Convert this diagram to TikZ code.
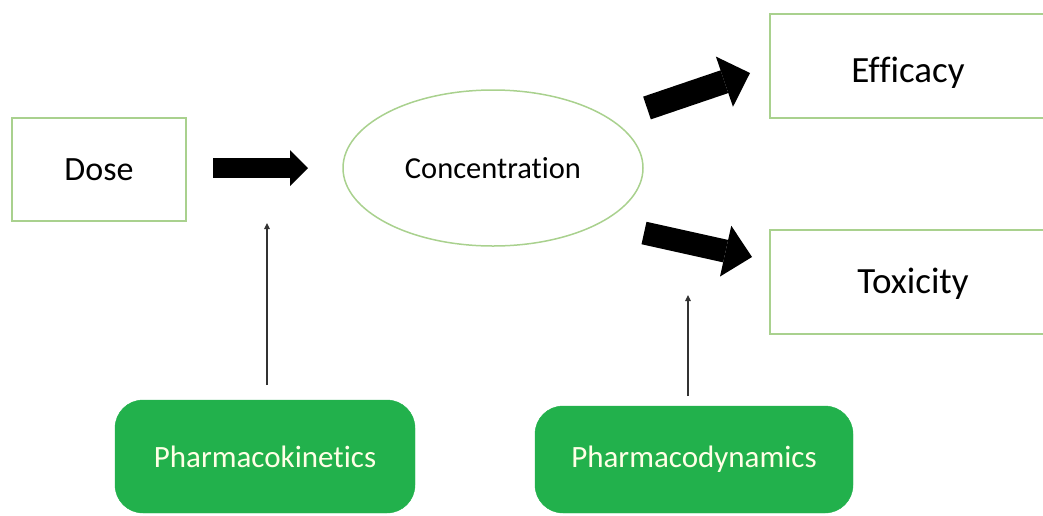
\documentclass[tikz,border=0pt]{standalone}
\usepackage{fontspec}
\setmainfont{Carlito}[Ligatures=NoCommon]
\usetikzlibrary{arrows.meta,shapes.geometric}
\definecolor{boxgreen}{HTML}{A9D18E}
\definecolor{fillgreen}{HTML}{22B14C}
\definecolor{paletext}{HTML}{FFFFE6}
\tikzset{
  plainbox/.style={draw=boxgreen, line width=1.5pt, rectangle, inner sep=0pt},
  greenbox/.style={fill=fillgreen, draw=fillgreen, rounded corners=28pt, inner sep=0pt, text=paletext, font=\fontsize{31}{36}\selectfont},
  blockarrow/.style={line width=#1, draw=black, line cap=butt},
  thinarrow/.style={draw=black!80, line width=1.2pt, -{Triangle[length=6pt,width=5.5pt]}}
}
\begin{document}
\begin{tikzpicture}[x=1pt,y=-1pt]
\useasboundingbox (0,0) rectangle (1043,515);
\clip (0,0) rectangle (1043,515);
\node[plainbox, minimum width=174pt, minimum height=103pt, font=\fontsize{34}{40}\selectfont] (dose) at (99,169.5) {Dose};
\node[ellipse, draw=boxgreen, line width=1.5pt, minimum width=300pt, minimum height=156pt, inner sep=0pt, font=\fontsize{30.5}{36}\selectfont] (conc) at (493,168) {Concentration};
\node[plainbox, minimum width=276pt, minimum height=104pt, text height=37pt, text depth=5pt, font=\fontsize{37}{44}\selectfont] (eff) at (908,66) {Efficacy};
\node[plainbox, minimum width=286pt, minimum height=104pt, text height=29pt, text depth=7pt, font=\fontsize{37}{44}\selectfont] (tox) at (913,282) {Toxicity};
\node[greenbox, minimum width=300pt, minimum height=113pt] (pk) at (265,456.5) {Pharmacokinetics};
\node[greenbox, minimum width=318pt, minimum height=107pt] (pd) at (694,459.5) {Pharmacodynamics};
% block arrows
\coordinate (a1s) at (213,168);
\coordinate (a1e) at (308,168);
\draw[blockarrow=20pt, -{Triangle[length=18pt 0 0,width=36pt 0 0,line width=0pt 0 0]}] (a1s) -- (a1e);
\coordinate (a2s) at (647,108);
\coordinate (a2e) at (750,73);
\draw[blockarrow=24pt, -{Triangle[length=27pt 0 0,width=53pt 0 0,line width=0pt 0 0]}] (a2s) -- (a2e);
\coordinate (a3s) at (644,233);
\coordinate (a3e) at (752,257);
\draw[blockarrow=23pt, -{Triangle[length=27pt 0 0,width=52pt 0 0,line width=0pt 0 0]}] (a3s) -- (a3e);
% thin arrows
\coordinate (pkfrom) at (267,385);
\coordinate (pkto) at (267,223);
\draw[thinarrow] (pkfrom) -- (pkto);
\coordinate (pdfrom) at (688,396);
\coordinate (pdto) at (688,295);
\draw[thinarrow] (pdfrom) -- (pdto);
\end{tikzpicture}
\end{document}
